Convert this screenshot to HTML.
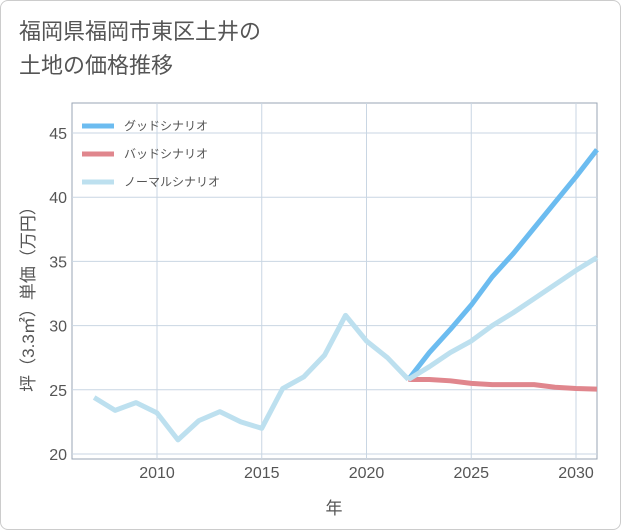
<!DOCTYPE html>
<html><head><meta charset="utf-8"><style>
body{margin:0;background:#fff;font-family:"Liberation Sans","Noto Sans CJK JP",sans-serif}
#wrap{position:relative;width:619px;height:528px;border:1px solid #ccc;border-radius:8px;overflow:hidden}
.title{position:absolute;left:18px;top:14px;font-size:22px;line-height:34px;color:#555;font-weight:normal}
svg text{font-family:"Liberation Sans","Noto Sans CJK JP",sans-serif}
</style></head><body>
<div id="wrap">
<div class="title">福岡県福岡市東区土井の<br>土地の価格推移</div>
<svg id="c" width="621" height="530" style="position:absolute;left:-1px;top:-1px"></svg>
</div>
<script>
const histYears=[2007,2008,2009,2010,2011,2012,2013,2014,2015,2016,2017,2018,2019,2020,2021,2022];
const histValues=[24.4,23.4,24.0,23.2,21.1,22.6,23.3,22.5,22.0,25.1,26.0,27.7,30.8,28.8,27.5,25.8];
const futYears=[2022,2023,2024,2025,2026,2027,2028,2029,2030,2031];
const goodValues=[25.8,27.9,29.7,31.6,33.8,35.6,37.6,39.6,41.6,43.7];
const normalValues=[25.8,26.8,27.9,28.8,30.0,31.0,32.1,33.2,34.3,35.3];
const badValues=[25.8,25.8,25.7,25.5,25.4,25.4,25.4,25.2,25.1,25.05];
const xTicks=[2010,2015,2020,2025,2030];
const yTicks=[20,25,30,35,40,45];
const NS='http://www.w3.org/2000/svg';
const svg=document.getElementById('c');
const L=72,R=597,T=103,B=459;
const x=v=>157+(v-2010)*(576-157)/20;
const y=v=>454-(v-20)*(454-133)/25;
function mk(t,a,p){const e=document.createElementNS(NS,t);for(const k in a)e.setAttribute(k,a[k]);(p||svg).appendChild(e);return e;}
mk('rect',{x:L,y:T,width:R-L,height:B-T,fill:'#fff',stroke:'#9aa6b4','stroke-width':1});
xTicks.forEach(v=>{
 const g=mk('line',{x1:x(v),x2:x(v),y1:T,y2:B,stroke:'#c9d6e3'});
 
 const t=mk('text',{x:x(v),y:478,'text-anchor':'middle','font-size':16,fill:'#555'});t.textContent=v;
 
});
yTicks.forEach(v=>{
 const g=mk('line',{x1:L,x2:R,y1:y(v),y2:y(v),stroke:'#c9d6e3'});
 
 const t=mk('text',{x:67,y:y(v)+6,'text-anchor':'end','font-size':16,fill:'#555'});t.textContent=v;
 
});
function line(xs,vs,col,name){
 const p=mk('polyline',{points:xs.map((yr,i)=>x(yr)+','+y(vs[i])).join(' '),fill:'none',stroke:col,'stroke-width':5,'stroke-linejoin':'round'});
 
}
line(futYears,badValues,'#e0868d','bad-scenario-line');
line(futYears,goodValues,'#6cbcf0','good-scenario-line');
line(futYears,normalValues,'#bde0ef','normal-scenario-line');
line(histYears,histValues,'#bde0ef','history-line');
const leg=[['グッドシナリオ','#6cbcf0'],['バッドシナリオ','#e0868d'],['ノーマルシナリオ','#bde0ef']];
leg.forEach((d,i)=>{
 const yy=126+i*28;
 const l=mk('line',{x1:82,x2:114,y1:yy,y2:yy,stroke:d[1],'stroke-width':5});
 
 const t=mk('text',{x:124,y:yy+4,'font-size':12,fill:'#555'});t.textContent=d[0];
 
});
const xt=mk('text',{x:334,y:514,'text-anchor':'middle','font-size':17,fill:'#555'});xt.textContent='年';

const yt=mk('text',{x:0,y:0,'text-anchor':'middle','font-size':17,fill:'#555',transform:'translate(34,295) rotate(-90)'});yt.textContent='坪（3.3㎡）単価（万円）';

</script>
</body></html>
